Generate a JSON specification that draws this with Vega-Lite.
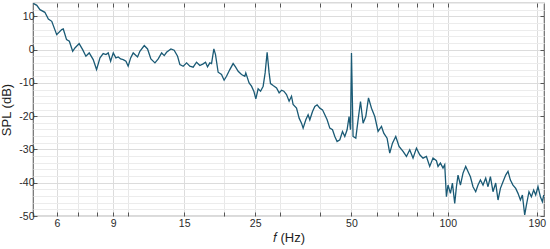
{
  "$schema": "https://vega.github.io/schema/vega-lite/v6.json",
  "width": 511,
  "height": 213,
  "autosize": "none",
  "padding": {"left": 33, "top": 3, "right": 6, "bottom": 33},
  "background": "white",
  "config": {
    "view": {"stroke": "#6e6e6e", "strokeWidth": 1.2},
    "axis": {
      "labelFont": "Liberation Sans",
      "titleFont": "Liberation Sans",
      "labelFontSize": 10.5,
      "titleFontSize": 13,
      "titleFontWeight": "normal",
      "labelColor": "#2a2a2a",
      "titleColor": "#1e1e1e",
      "domain": false,
      "tickColor": "#555555"
    }
  },
  "data": {"values": [
    {"f":5.06,"spl":13.9},{"f":5.19,"spl":13.3},{"f":5.31,"spl":12.0},{"f":5.50,"spl":11.2},{"f":5.64,"spl":9.2},{"f":5.78,"spl":8.5},{"f":5.99,"spl":4.5},{"f":6.21,"spl":6.0},{"f":6.28,"spl":6.2},{"f":6.43,"spl":3.0},{"f":6.56,"spl":2.5},{"f":6.72,"spl":-0.5},{"f":6.83,"spl":0.5},{"f":7.04,"spl":1.8},{"f":7.22,"spl":0.0},{"f":7.39,"spl":-2.0},{"f":7.57,"spl":-1.0},{"f":7.79,"spl":-3.0},{"f":7.98,"spl":-6.0},{"f":8.18,"spl":-2.5},{"f":8.37,"spl":-1.2},{"f":8.54,"spl":-1.5},{"f":8.68,"spl":-1.0},{"f":8.83,"spl":-3.5},{"f":9.00,"spl":-1.0},{"f":9.17,"spl":-2.5},{"f":9.33,"spl":-2.2},{"f":9.49,"spl":-2.8},{"f":9.67,"spl":-3.0},{"f":9.86,"spl":-3.5},{"f":10.02,"spl":-5.0},{"f":10.20,"spl":-2.5},{"f":10.39,"spl":-1.0},{"f":10.72,"spl":-2.2},{"f":10.90,"spl":-0.5},{"f":11.25,"spl":1.2},{"f":11.52,"spl":0.2},{"f":11.80,"spl":-2.8},{"f":12.15,"spl":-4.0},{"f":12.44,"spl":-2.8},{"f":12.75,"spl":-1.0},{"f":12.99,"spl":-1.8},{"f":13.21,"spl":-0.8},{"f":13.63,"spl":0.2},{"f":13.95,"spl":-0.2},{"f":14.30,"spl":-2.0},{"f":14.54,"spl":-4.5},{"f":14.89,"spl":-5.0},{"f":15.26,"spl":-4.0},{"f":15.62,"spl":-5.0},{"f":16.00,"spl":-5.3},{"f":16.39,"spl":-3.8},{"f":16.79,"spl":-4.8},{"f":17.19,"spl":-4.3},{"f":17.49,"spl":-3.8},{"f":17.74,"spl":-5.2},{"f":18.04,"spl":-4.0},{"f":18.26,"spl":-4.2},{"f":18.57,"spl":0.2},{"f":18.79,"spl":-1.5},{"f":19.15,"spl":-6.8},{"f":19.62,"spl":-7.5},{"f":19.99,"spl":-9.2},{"f":20.34,"spl":-8.0},{"f":20.83,"spl":-6.0},{"f":21.33,"spl":-4.2},{"f":21.70,"spl":-5.2},{"f":22.12,"spl":-6.5},{"f":22.66,"spl":-7.5},{"f":23.21,"spl":-8.0},{"f":23.37,"spl":-7.0},{"f":23.93,"spl":-10.0},{"f":24.35,"spl":-11.0},{"f":24.76,"spl":-12.5},{"f":25.12,"spl":-14.8},{"f":25.54,"spl":-11.8},{"f":25.99,"spl":-12.5},{"f":26.48,"spl":-11.0},{"f":26.86,"spl":-7.0},{"f":27.25,"spl":-0.8},{"f":27.64,"spl":-7.0},{"f":27.92,"spl":-10.2},{"f":28.45,"spl":-10.8},{"f":29.16,"spl":-11.5},{"f":29.71,"spl":-13.0},{"f":30.23,"spl":-12.2},{"f":30.73,"spl":-12.5},{"f":31.33,"spl":-13.5},{"f":31.92,"spl":-15.5},{"f":32.48,"spl":-14.0},{"f":32.85,"spl":-16.5},{"f":33.67,"spl":-17.6},{"f":34.31,"spl":-20.6},{"f":34.90,"spl":-22.1},{"f":35.31,"spl":-23.6},{"f":36.00,"spl":-21.1},{"f":36.60,"spl":-19.6},{"f":37.05,"spl":-21.1},{"f":37.78,"spl":-18.6},{"f":38.41,"spl":-17.1},{"f":39.05,"spl":-16.6},{"f":39.82,"spl":-17.6},{"f":40.60,"spl":-18.1},{"f":41.28,"spl":-19.6},{"f":41.97,"spl":-21.1},{"f":42.79,"spl":-23.6},{"f":43.63,"spl":-24.1},{"f":44.36,"spl":-26.1},{"f":45.09,"spl":-27.6},{"f":45.99,"spl":-27.1},{"f":46.88,"spl":-24.6},{"f":47.66,"spl":-26.1},{"f":48.46,"spl":-24.1},{"f":49.15,"spl":-20.1},{"f":49.66,"spl":-24.1},{"f":50.01,"spl":-1.0},{"f":50.59,"spl":-26.1},{"f":51.59,"spl":-26.6},{"f":52.45,"spl":-21.1},{"f":53.37,"spl":-15.6},{"f":54.37,"spl":-22.1},{"f":55.44,"spl":-20.1},{"f":56.53,"spl":-14.5},{"f":57.76,"spl":-17.6},{"f":59.15,"spl":-20.1},{"f":60.57,"spl":-24.6},{"f":62.07,"spl":-23.1},{"f":63.10,"spl":-25.1},{"f":64.62,"spl":-26.6},{"f":65.88,"spl":-31.1},{"f":67.18,"spl":-28.1},{"f":68.79,"spl":-26.1},{"f":70.44,"spl":-29.1},{"f":72.50,"spl":-30.6},{"f":74.29,"spl":-32.1},{"f":76.07,"spl":-30.1},{"f":77.90,"spl":-32.6},{"f":79.84,"spl":-29.6},{"f":81.75,"spl":-31.6},{"f":83.72,"spl":-32.6},{"f":85.78,"spl":-32.1},{"f":87.84,"spl":-35.1},{"f":89.95,"spl":-32.6},{"f":92.19,"spl":-33.4},{"f":93.26,"spl":-35.1},{"f":94.88,"spl":-34.1},{"f":96.67,"spl":-35.6},{"f":97.86,"spl":-34.6},{"f":99.06,"spl":-44.2},{"f":100.21,"spl":-40.7},{"f":101.96,"spl":-43.2},{"f":103.44,"spl":-40.1},{"f":105.17,"spl":-46.2},{"f":106.47,"spl":-41.2},{"f":107.70,"spl":-37.7},{"f":109.58,"spl":-40.7},{"f":111.64,"spl":-37.1},{"f":113.82,"spl":-35.1},{"f":115.73,"spl":-36.6},{"f":117.74,"spl":-38.2},{"f":119.96,"spl":-41.2},{"f":122.33,"spl":-42.7},{"f":124.38,"spl":-40.7},{"f":126.55,"spl":-39.2},{"f":128.93,"spl":-40.7},{"f":131.45,"spl":-38.6},{"f":133.65,"spl":-41.2},{"f":135.98,"spl":-38.2},{"f":138.54,"spl":-42.7},{"f":141.27,"spl":-40.1},{"f":143.64,"spl":-45.2},{"f":146.14,"spl":-41.7},{"f":148.89,"spl":-39.7},{"f":151.80,"spl":-37.7},{"f":154.34,"spl":-36.6},{"f":157.03,"spl":-39.2},{"f":159.98,"spl":-40.7},{"f":163.14,"spl":-41.7},{"f":165.87,"spl":-43.2},{"f":168.76,"spl":-45.2},{"f":171.19,"spl":-43.7},{"f":174.05,"spl":-49.7},{"f":176.18,"spl":-46.7},{"f":179.50,"spl":-42.7},{"f":182.63,"spl":-44.2},{"f":185.68,"spl":-42.2},{"f":188.39,"spl":-43.7},{"f":191.54,"spl":-41.2},{"f":194.87,"spl":-44.2},{"f":197.68,"spl":-45.7},{"f":199.6,"spl":-43.7}
  ]},
  "layer": [
    {
      "mark": {"type": "line", "color": "#1a5a75", "strokeWidth": 1.3, "clip": true},
      "encoding": {
        "x": {
          "field": "f", "type": "quantitative",
          "scale": {"type": "log", "domain": [5.05, 200], "nice": false},
          "axis": {
            "orient": "bottom",
            "title": "𝑓 (Hz)",
            "titlePadding": 3,
            "values": [6,7,8,9,10,15,20,25,30,40,50,60,70,80,90,100,190],
            "labelExpr": "indexof([6,9,15,25,50,100,190], datum.value) >= 0 ? datum.value : ''",
            "tickSize": -4,
            "labelPadding": 6,
            "labelFlush": false,
            "labelOverlap": false,
            "grid": true,
            "gridColor": {"condition": {"test": "indexof([6,9,15,25,50,100,190], datum.value) >= 0", "value": "#dcdcdc"}, "value": "#e8e8e8"},
            "gridWidth": 1
          }
        },
        "y": {
          "field": "spl", "type": "quantitative",
          "scale": {"domain": [-50, 14], "nice": false, "zero": false},
          "axis": {
            "orient": "left",
            "title": "SPL (dB)",
            "titlePadding": 5,
            "values": [-50,-48,-46,-44,-42,-40,-38,-36,-34,-32,-30,-28,-26,-24,-22,-20,-18,-16,-14,-12,-10,-8,-6,-4,-2,0,2,4,6,8,10,12,14],
            "labelExpr": "datum.value % 10 === 0 ? datum.value : ''",
            "tickSize": -4,
            "tickOpacity": {"condition": {"test": "datum.value % 10 === 0", "value": 1}, "value": 0},
            "labelPadding": 3,
            "labelOverlap": false,
            "grid": true,
            "gridColor": {"condition": {"test": "datum.value % 10 === 0", "value": "#dcdcdc"}, "value": "#ececec"}
          }
        }
      }
    },
    {
      "mark": {"type": "line", "opacity": 0},
      "encoding": {
        "x": {
          "field": "f", "type": "quantitative",
          "scale": {"type": "log", "domain": [5.05, 200], "nice": false},
          "axis": {"orient": "top", "title": null, "labels": false, "grid": false, "values": [6,7,8,9,10,15,20,25,30,40,50,60,70,80,90,100,190], "tickSize": -4}
        },
        "y": {
          "field": "spl", "type": "quantitative",
          "scale": {"domain": [-50, 14], "nice": false, "zero": false},
          "axis": {"orient": "right", "title": null, "labels": false, "grid": false, "values": [-50,-40,-30,-20,-10,0,10], "tickSize": -4}
        }
      }
    }
  ],
  "resolve": {"axis": {"x": "independent", "y": "independent"}}
}
